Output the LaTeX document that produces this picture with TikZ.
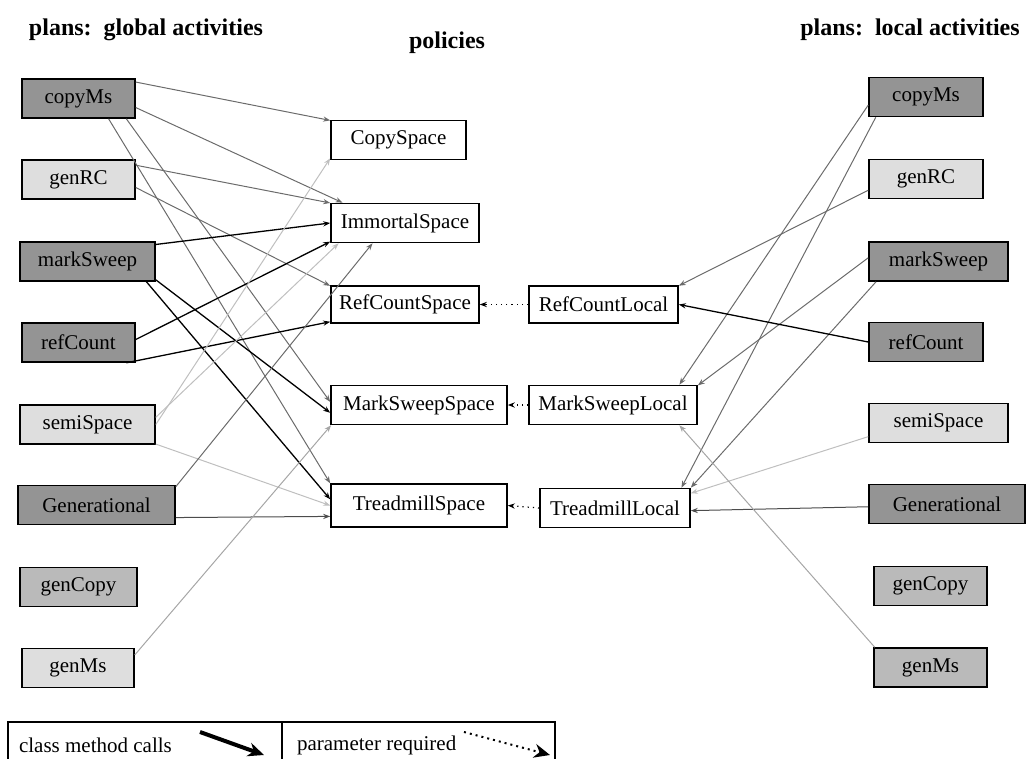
\documentclass[tikz,border=0pt]{standalone}
\usepackage{fontspec}
\setmainfont{Liberation Serif}
\usetikzlibrary{arrows.meta}

\begin{document}
\begin{tikzpicture}[x=0.5pt,y=-0.5pt,
	box/.style={draw,line width=0.8pt,minimum height=19.5pt,inner sep=0pt,font=\fontsize{10.5}{12}\selectfont},
	dark/.style={box,fill=black!42},
	mid/.style={box,fill=black!27},
	light/.style={box,fill=black!13},
	pol/.style={box,fill=white},
	head/.style={font=\fontsize{12}{14}\selectfont\bfseries},
	callk/.style={-{Stealth[length=3.5pt,width=2.6pt]},line width=0.65pt,black},
	callg/.style={-{Stealth[length=3.5pt,width=2.6pt]},line width=0.5pt,black!58},
	calll/.style={-{Stealth[length=3.5pt,width=2.6pt]},line width=0.5pt,black!25},
	param/.style={-{Stealth[length=3.5pt,width=2.6pt]},line width=0.6pt,dotted}]
	\useasboundingbox (0,0) rectangle (1027,759);
	\node[head] (t1) at (146,30) {plans:\ \ global activities};
	\node[head] (t2) at (447,43) {policies};
	\node[head] (t3) at (910,30) {plans:\ \ local activities};
	\node[dark,minimum width=56.5pt] (g1) at (78.5,98.5) {copyMs};
	\node[light,minimum width=56.5pt] (g2) at (78.5,179.5) {genRC};
	\node[dark,minimum width=67.5pt] (g3) at (87.5,261.5) {markSweep};
	\node[dark,minimum width=56.5pt] (g4) at (78.5,342.5) {refCount};
	\node[light,minimum width=67.5pt] (g5) at (87.5,424.5) {semiSpace};
	\node[dark,minimum width=78.5pt] (g6) at (96.5,505) {Generational};
	\node[mid,minimum width=58.5pt] (g7) at (78.5,587) {genCopy};
	\node[light,minimum width=56pt] (g8) at (78,668) {genMs};
	\node[dark,minimum width=57pt] (l1) at (926,97) {copyMs};
	\node[light,minimum width=57pt] (l2) at (926,179) {genRC};
	\node[dark,minimum width=69.5pt] (l3) at (938.5,261.5) {markSweep};
	\node[dark,minimum width=57pt] (l4) at (926,342) {refCount};
	\node[light,minimum width=69.5pt] (l5) at (938.5,423) {semiSpace};
	\node[dark,minimum width=78pt] (l6) at (947,504) {Generational};
	\node[mid,minimum width=56.5pt] (l7) at (930.5,586) {genCopy};
	\node[mid,minimum width=56.5pt] (l8) at (930.5,667.5) {genMs};
	\node[pol,minimum width=67.5pt] (cs) at (398.5,140) {CopySpace};
	\node[pol,minimum width=74pt] (is) at (405,223) {ImmortalSpace};
	\node[pol,minimum width=74pt,minimum height=18.5pt] (rs) at (405,304.5) {RefCountSpace};
	\node[pol,minimum width=88pt] (ms) at (419,405) {MarkSweepSpace};
	\node[pol,minimum width=88pt,minimum height=21.5pt] (ts) at (419,505.5) {TreadmillSpace};
	\node[pol,minimum width=74.5pt,minimum height=18.5pt] (rl) at (603.5,304.5) {RefCountLocal};
	\node[pol,minimum width=84pt] (ml) at (613,405) {MarkSweepLocal};
	\node[pol,minimum width=75pt] (tl) at (615,508) {TreadmillLocal};
	\draw [callg] (g1.16) -- (cs.164);
	\draw [callg] (g1.-9) -- (is.162);
	\draw [callg] (g1.-23) -- (ms.178);
	\draw [callg] (g1.-34) -- (ts.166);
	\draw [callg] (g2.14) -- (is.165);
	\draw [callg] (g2.-8) -- (rs.166);
	\draw [callk] (g3.14) -- (is.180);
	\draw [callk] (g3.-15) -- (ms.185);
	\draw [callk] (g3.-19) -- (ts.176);
	\draw [callk] (g4.3) -- (is.194);
	\draw [callk] (g4.-23) -- (rs.193);
	\draw [calll] (g5.0) -- (cs.195);
	\draw [calll] (g5.6) -- (is.197);
	\draw [calll] (g5.-16) -- (ts.180);
	\draw [callg] (g6.13) -- (is.212);
	\draw [callg,black!70] (g6.-9) -- (ts.187);
	\draw [calll,black!35] (g8.13) -- (ms.193);
	\draw [callg] (l1.188) -- (ml.17);
	\draw [callg] (l1.202) -- (tl.17);
	\draw [callg] (l2.191) -- (rl.14);
	\draw [callg] (l3.177) -- (ml.13);
	\draw [callg] (l3.198) -- (tl.15);
	\draw [callk] (l4.180) -- (rl.0);
	\draw [calll] (l5.191) -- (tl.11);
	\draw [callg,black!70] (l6.182) -- (tl.-2);
	\draw [calll,black!35] (l8.160) -- (ml.-17);
	\draw [param] (rl.west) -- (rs.east);
	\draw [param] (ml.west) -- (ms.east);
	\draw [param] (tl.west) -- (ts.east);
	\draw [line width=0.8pt] (8,722) rectangle (555,772);
	\draw [line width=0.8pt] (282,722) -- (282,772);
	\node[anchor=west,font=\fontsize{10.5}{12}\selectfont] (k1) at (12,745) {class method calls};
	\node[anchor=west,font=\fontsize{10.5}{12}\selectfont] (k2) at (290,745) {parameter required};
	\coordinate (a1) at (200,732);
	\coordinate (a2) at (264,755);
	\coordinate (b1) at (464,732);
	\coordinate (b2) at (550,755);
	\draw [line width=2pt,-{Stealth[length=8pt,width=7pt]}] (a1) -- (a2);
	\draw [line width=1pt,dotted,-{Stealth[length=8pt,width=7pt]}] (b1) -- (b2);
\end{tikzpicture}
\end{document}
